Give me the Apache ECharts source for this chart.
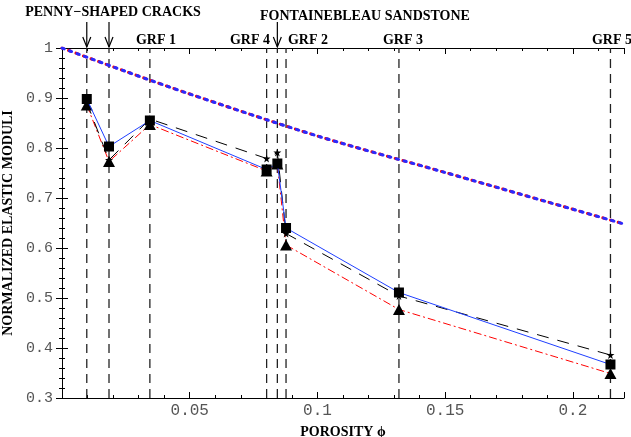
<!DOCTYPE html>
<html>
<head>
<meta charset="utf-8">
<script src="https://cdn.jsdelivr.net/npm/echarts@6/dist/echarts.min.js"></script>
<style>
  html, body { margin: 0; padding: 0; background: #fff; }
  #chart { width: 631px; height: 437px; }
</style>
</head>
<body>
<div id="chart"></div>
<script>
// porosity of the samples (dashed verticals)
const phi = [0.0097, 0.0184, 0.0344, 0.0801, 0.0843, 0.0877, 0.1319, 0.2147]
const squareVals = [0.898, 0.803, 0.855, 0.757, 0.769, 0.640, 0.511, 0.367]
const starVals = [0.891, 0.776, 0.858, 0.779, 0.791, 0.629, 0.504, 0.386]
const triVals = [0.886, 0.773, 0.847, 0.754, 0.768, 0.606, 0.477, 0.349]
// bound curve (dotted)
const boundPhi = [0, 0.025, 0.05, 0.1, 0.15, 0.22]
const boundVals = [1, 0.953, 0.908, 0.824, 0.751, 0.648]
const xTickLabels = [0.05, 0.1, 0.15, 0.2]
const grfLabels = [
  { text: 'GRF 1', x: 156 },
  { text: 'GRF 4', x: 250 },
  { text: 'GRF 2', x: 308 },
  { text: 'GRF 3', x: 403 },
  { text: 'GRF 5', x: 612 }
]

const serifBold = { fontFamily: 'Liberation Serif', fontWeight: 'bold', fontSize: 14, color: '#000' }
const mono = { fontFamily: 'Liberation Mono', color: '#555' }

const pairs = (xs, ys) => xs.map((x, i) => [x, ys[i]])

const tick = (len) => ({ show: true, inside: true, length: len, lineStyle: { color: '#000', width: 1 } })
const xBase = { type: 'value', min: 0, max: 0.22, splitLine: { show: false } }
const yBase = { type: 'value', min: 0.3, max: 1, interval: 0.1, splitLine: { show: false } }

// one dashed vertical series per sample porosity
const verticals = phi.map((p) => ({
  type: 'line', data: [[p, 0.3], [p, 1]], symbol: 'none', z: 1, silent: true,
  lineStyle: { color: '#222', width: 1.3, type: [9, 6] }
}))

const chart = echarts.init(document.getElementById('chart'))
chart.setOption({
  animation: false,
  grid: { left: 62, right: 7, top: 48, bottom: 39, outerBoundsMode: 'none', containLabel: false },
  xAxis: [
    { ...xBase, position: 'bottom', interval: 0.01,
      axisLine: { show: true, lineStyle: { color: '#000', width: 1 } },
      axisTick: tick(3),
      axisLabel: { show: false },
      name: 'POROSITY \u03d5', nameLocation: 'middle', nameGap: 27, nameTextStyle: serifBold },
    { ...xBase, position: 'bottom', interval: 0.05,
      axisLine: { show: false },
      axisTick: tick(6),
      axisLabel: { ...mono, fontSize: 16, margin: 5,
        formatter: (v) => xTickLabels.some((t) => Math.abs(t - v) < 1e-9) ? String(+v.toFixed(2)) : '' } },
    { ...xBase, position: 'top', interval: 0.01,
      axisLine: { show: true, lineStyle: { color: '#000', width: 1 } },
      axisTick: tick(3),
      axisLabel: { show: false } },
    { ...xBase, position: 'top', interval: 0.05,
      axisLine: { show: false },
      axisTick: tick(6),
      axisLabel: { show: false } }
  ],
  yAxis: [
    { ...yBase, position: 'left',
      axisLine: { show: true, lineStyle: { color: '#000', width: 1 } },
      axisTick: tick(6),
      minorTick: { show: true, splitNumber: 5, length: 3, lineStyle: { color: '#000' } },
      axisLabel: { ...mono, fontSize: 15, margin: 9, formatter: (v) => String(+v.toFixed(1)) },
      name: 'NORMALIZED ELASTIC MODULI', nameLocation: 'middle', nameGap: 37, nameTextStyle: serifBold },
    { ...yBase, position: 'right',
      axisLine: { show: true, lineStyle: { color: '#000', width: 1 } },
      axisTick: tick(6),
      minorTick: { show: true, splitNumber: 5, length: 3, lineStyle: { color: '#000' } },
      axisLabel: { show: false } }
  ],
  series: [
    ...verticals,
    {
      type: 'line', data: pairs(boundPhi, boundVals), symbol: 'none', z: 2, smooth: 0.3,
      lineStyle: { color: '#ff0000', width: 3, type: [2.5, 5.5], cap: 'round', dashOffset: 1 }
    },
    {
      type: 'line', data: pairs(boundPhi, boundVals), symbol: 'none', z: 3, smooth: 0.3,
      lineStyle: { color: '#2a2aff', width: 3, type: [2.5, 5.5], cap: 'round' }
    },
    {
      type: 'line', data: pairs(phi, triVals), z: 4,
      symbol: 'triangle', symbolSize: [12, 11],
      itemStyle: { color: '#000' },
      lineStyle: { color: '#ff0000', width: 1, type: [8, 3, 2, 3] }
    },
    {
      type: 'line', data: pairs(phi, starVals), z: 5,
      symbol: 'path://M50,0 L61,35 L98,35 L68,57 L79,91 L50,70 L21,91 L32,57 L2,35 L39,35 Z',
      symbolSize: 8,
      itemStyle: { color: '#000' },
      lineStyle: { color: '#000', width: 1, type: [12, 9] }
    },
    {
      type: 'line', data: pairs(phi, squareVals), z: 6,
      symbol: 'rect', symbolSize: 10,
      itemStyle: { color: '#000' },
      lineStyle: { color: '#1f3fff', width: 1 }
    }
  ]
})

// arrows and annotations above the frame
const arrowX = [phi[0], phi[1], phi[4]].map((p) => chart.convertToPixel({ xAxisIndex: 0 }, p))
const graphics = []
arrowX.forEach((x) => {
  graphics.push({ type: 'line', shape: { x1: x, y1: 22, x2: x, y2: 47 }, style: { stroke: '#000', lineWidth: 1.2 } })
  graphics.push({ type: 'polyline', shape: { points: [[x - 4, 37], [x, 47], [x + 4, 37]] }, style: { stroke: '#000', lineWidth: 1.2, fill: null } })
})
graphics.push({ type: 'text', x: 113, y: 12, style: { text: 'PENNY\u2212SHAPED CRACKS', font: 'bold 14px "Liberation Serif"', fill: '#000', align: 'center', verticalAlign: 'middle' } })
graphics.push({ type: 'text', x: 365, y: 16, style: { text: 'FONTAINEBLEAU SANDSTONE', font: 'bold 14px "Liberation Serif"', fill: '#000', align: 'center', verticalAlign: 'middle' } })
grfLabels.forEach((g) => {
  graphics.push({ type: 'text', x: g.x, y: 40, style: { text: g.text, font: 'bold 14px "Liberation Serif"', fill: '#000', align: 'center', verticalAlign: 'middle' } })
})
chart.setOption({ graphic: graphics })
</script>
</body>
</html>
